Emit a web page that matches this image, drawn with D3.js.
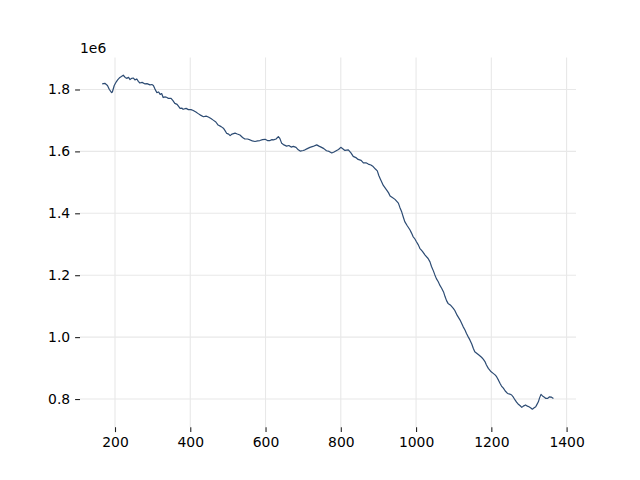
<!DOCTYPE html>
<html>
<head>
<meta charset="utf-8">
<script src="https://cdn.jsdelivr.net/npm/d3@7"></script>
<style>
  html, body { margin: 0; padding: 0; background: #fff; }
  svg { display: block; }
  text { font-family: "DejaVu Sans", sans-serif; }
</style>
</head>
<body>
<div id="chart"></div>
<script>
// ---- data ----
const xValues = [166,173,180,185,191,193,198,203,207,213,217,222,227,231,236,240,244,249,253,258,
  262,266,272,280,285,293,298,302,306,311,316,320,324,328,333,337,342,349,354,359,
  365,373,378,381,389,395,402,408,415,421,426,435,442,448,455,461,468,474,482,488,
  492,497,502,506,511,519,525,532,539,545,552,559,565,572,579,585,592,599,605,612,
  617,621,628,634,638,643,649,656,662,668,674,681,687,692,700,705,711,718,726,736,
  742,749,755,762,769,776,782,789,794,800,806,811,820,827,833,840,846,854,860,867,
  873,880,886,892,897,901,905,913,922,927,931,937,944,953,957,962,966,970,977,984,
  988,992,997,1001,1006,1010,1017,1024,1032,1037,1041,1046,1050,1054,1059,1063,1068,1073,1077,1081,
  1085,1091,1099,1103,1109,1117,1121,1125,1130,1134,1139,1143,1148,1152,1156,1161,1167,1174,1179,1183,
  1187,1192,1198,1205,1210,1214,1219,1223,1227,1232,1237,1243,1249,1254,1259,1263,1267,1271,1276,1281,
  1285,1291,1296,1300,1305,1309,1313,1318,1321,1325,1328,1332,1336,1341,1345,1350,1354,1360,1365];

const seriesValues = [1818000,1820000,1813000,1800000,1790000,1792000,1813000,1824000,1831000,1839000,
  1842000,1846000,1839000,1836000,1839000,1832000,1836000,1837000,1831000,1834000,
  1826000,1821000,1823000,1818000,1819000,1815000,1816000,1813000,1802000,1790000,
  1792000,1784000,1787000,1774000,1776000,1775000,1771000,1771000,1764000,1755000,
  1752000,1739000,1740000,1736000,1739000,1735000,1735000,1732000,1727000,1722000,
  1718000,1712000,1714000,1711000,1706000,1701000,1695000,1685000,1680000,1675000,
  1668000,1658000,1656000,1651000,1656000,1659000,1656000,1653000,1645000,1640000,
  1640000,1637000,1634000,1632000,1634000,1635000,1638000,1639000,1635000,1635000,
  1638000,1637000,1640000,1648000,1642000,1626000,1621000,1617000,1619000,1614000,
  1616000,1613000,1605000,1601000,1603000,1605000,1609000,1613000,1616000,1621000,
  1617000,1613000,1609000,1602000,1600000,1595000,1598000,1603000,1606000,1613000,
  1608000,1603000,1605000,1595000,1584000,1580000,1574000,1571000,1563000,1563000,
  1559000,1556000,1551000,1543000,1537000,1522000,1511000,1490000,1475000,1466000,
  1456000,1451000,1445000,1433000,1419000,1404000,1388000,1373000,1359000,1346000,
  1336000,1325000,1317000,1308000,1298000,1287000,1277000,1265000,1254000,1243000,
  1228000,1214000,1201000,1189000,1179000,1168000,1158000,1146000,1131000,1118000,
  1109000,1104000,1093000,1086000,1071000,1055000,1045000,1034000,1023000,1012000,
  1000000,991000,978000,964000,953000,948000,942000,935000,928000,921000,
  910000,899000,890000,883000,878000,872000,861000,851000,842000,835000,
  826000,818000,816000,813000,805000,797000,790000,784000,779000,773000,
  777000,781000,777000,775000,771000,767000,771000,775000,782000,791000,
  803000,815000,810000,806000,802000,802000,807000,806000,802000];

const xTicks = [200, 400, 600, 800, 1000, 1200, 1400];
const yTicks = [800000, 1000000, 1200000, 1400000, 1600000, 1800000];
const yTickLabels = ["0.8", "1.0", "1.2", "1.4", "1.6", "1.8"];
const offsetLabel = "1e6";

// ---- layout ----
const W = 640, H = 480;
const M = { left: 80, right: 576, top: 57.6, bottom: 427.2 };

const data = xValues.map((x, i) => ({ x: x, y: seriesValues[i] }));

const svg = d3.select("#chart").append("svg")
  .attr("width", W).attr("height", H);
svg.append("rect").attr("width", W).attr("height", H).attr("fill", "#fff");

const x = d3.scaleLinear().domain([107, 1425]).range([M.left, M.right]);
const y = d3.scaleLinear().domain([709000, 1903000]).range([M.bottom, M.top]);

// grid
const grid = svg.append("g");
grid.selectAll("line.vg").data(xTicks).join("line")
  .attr("x1", d => x(d)).attr("x2", d => x(d))
  .attr("y1", M.top).attr("y2", M.bottom)
  .attr("stroke", "#e8e8e8").attr("stroke-width", 1.1);
grid.selectAll("line.hg").data(yTicks).join("line")
  .attr("x1", M.left).attr("x2", M.right)
  .attr("y1", d => y(d)).attr("y2", d => y(d))
  .attr("stroke", "#e8e8e8").attr("stroke-width", 1.1);

// axes (no spines)
const xAxis = d3.axisBottom(x).tickValues(xTicks).tickFormat(d3.format("d"))
  .tickSize(4.9).tickPadding(4.9);
const gx = svg.append("g").attr("transform", `translate(0,${M.bottom})`).call(xAxis);
const yAxis = d3.axisLeft(y).tickValues(yTicks).tickFormat((d, i) => yTickLabels[i])
  .tickSize(4.9).tickPadding(4.9);
const gy = svg.append("g").attr("transform", `translate(${M.left},0)`).call(yAxis);

[gx, gy].forEach(g => {
  g.select(".domain").remove();
  g.selectAll(".tick line").attr("stroke", "#222").attr("stroke-width", 1.1);
  g.selectAll(".tick text").attr("fill", "#000")
    .style("font-family", "'DejaVu Sans', sans-serif").style("font-size", "13.9px");
});

svg.append("text")
  .attr("x", M.left).attr("y", 53)
  .attr("fill", "#000")
  .style("font-size", "13.9px")
  .text(offsetLabel);

// line
const line = d3.line().x(d => x(d.x)).y(d => y(d.y));
svg.append("path").datum(data)
  .attr("d", line)
  .attr("fill", "none")
  .attr("stroke", "#2c4b73")
  .attr("stroke-width", 1.2)
  .attr("stroke-linejoin", "round");
</script>
</body>
</html>
